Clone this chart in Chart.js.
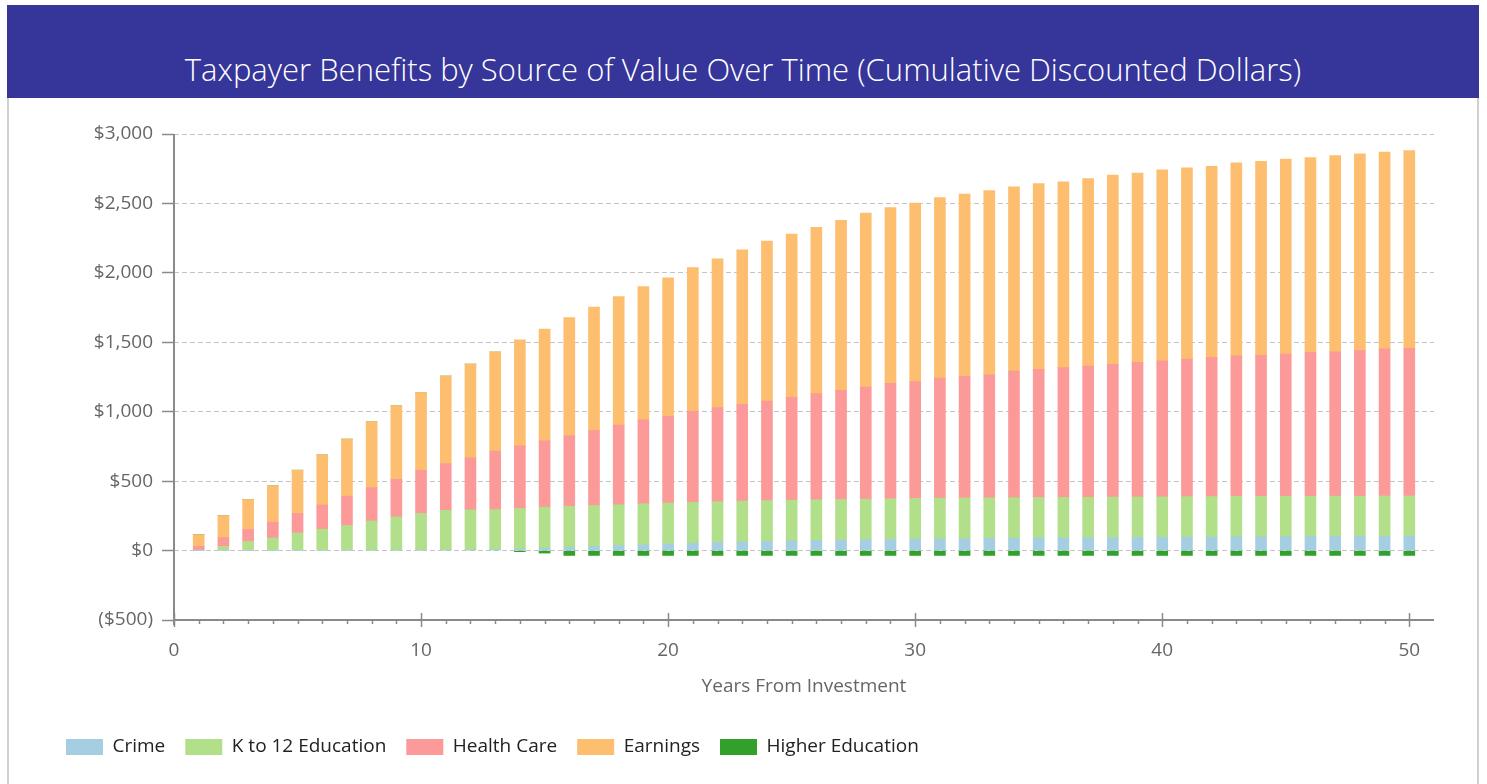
<!DOCTYPE html>
<html>
<head>
<meta charset="utf-8">
<script src="https://cdn.jsdelivr.net/npm/chart.js@4"></script>
<style>
  body { margin: 0; background: #fff; width: 1487px; height: 784px; overflow: hidden; position: relative; }
  #header { position: absolute; left: 7px; top: 5px; width: 1472px; height: 93px; background: #35359a; }
  #header .title { position: absolute; left: 0; right: 0; top: 44px; text-align: center; color: #fff;
    font: 300 31px "Open Sans", sans-serif; line-height: 40px; }
  #panel { position: absolute; left: 7px; top: 98px; width: 1468px; height: 686px;
    border-left: 2px solid #d0d0d0; border-right: 2px solid #d0d0d0; }
  #grafica { position: absolute; left: 0; top: 0; }
</style>
</head>
<body>
<div id="header"><div class="title">Taxpayer Benefits by Source of Value Over Time (Cumulative Discounted Dollars)</div></div>
<div id="panel"><canvas id="grafica" width="1468" height="686"></canvas></div>
<script>
// ==============================
// Datos
// ==============================
const years = [1,2,3,4,5,6,7,8,9,10,11,12,13,14,15,16,17,18,19,20,21,22,23,24,25,
  26,27,28,29,30,31,32,33,34,35,36,37,38,39,40,41,42,43,44,45,46,47,48,49,50];

const crime = [0,0,0,0,0,0,2,3,3,3,4,5,8,12,17,24,30,36,42,48,53,58,62,66,70,
  73,76,78,80,82,84,86,88,89,90,91,92,93,94,95,96,97,98,99,100,100,101,102,103,104];

const k12 = [3,29,65,91,127,154,178,210,239,264,286,288,287,291,295,294,294,294,295,294,295,294,294,294,294,
  293,292,292,293,294,294,293,292,292,292,292,292,292,292,292,292,292,292,291,291,291,291,290,290,289];

const healthCare = [28,65,88,113,140,175,212,241,272,312,337,375,421,451,479,511,541,574,605,624,654,677,697,717,739,
  764,786,808,831,841,864,875,886,912,923,934,945,956,969,980,991,1002,1013,1016,1024,1036,1040,1050,1059,1063];

const earnings = [84,158,215,262,312,360,411,473,528,560,630,675,714,763,804,849,888,925,960,998,1036,1072,1112,1152,1177,
  1198,1225,1252,1266,1285,1300,1314,1326,1326,1338,1338,1350,1364,1363,1375,1377,1377,1389,1398,1404,1404,1413,1415,1417,1425];

const higherEd = [0,0,0,0,0,0,0,0,0,0,0,0,0,-8,-18,-35,-35,-35,-35,-35,-35,-35,-35,-35,-35,
  -35,-35,-35,-35,-35,-35,-35,-35,-35,-35,-35,-35,-35,-35,-35,-35,-35,-35,-35,-35,-35,-35,-35,-35,-35];

const xTicks = [0, 10, 20, 30, 40, 50];
const yTicks = [-500, 0, 500, 1000, 1500, 2000, 2500, 3000];

// ==============================
// Ejes: ticks del eje X y lineas de eje solidas
// ==============================
const axisMarks = {
  id: "axisMarks",
  afterDraw(chart) {
    const { ctx, chartArea, scales: { x } } = chart;
    const y0 = chartArea.bottom;
    ctx.save();
    ctx.strokeStyle = "#8a8a8a";
    ctx.setLineDash([]);
    // lineas de eje
    ctx.lineWidth = 2;
    ctx.beginPath();
    ctx.moveTo(chartArea.left, chartArea.top);
    ctx.lineTo(chartArea.left, y0 + 5);
    ctx.moveTo(chartArea.left, y0);
    ctx.lineTo(chartArea.right, y0);
    ctx.stroke();
    // ticks del eje X
    ctx.lineWidth = 1.5;
    [0].concat(years).forEach(v => {
      const px = Math.round(x.getPixelForValue(v)) + 0.5;
      const major = xTicks.includes(v);
      ctx.beginPath();
      ctx.moveTo(px, major ? y0 - 7 : y0);
      ctx.lineTo(px, major ? y0 + 7 : y0 + 4);
      ctx.stroke();
    });
    ctx.restore();
  }
};

// ==============================
// Grafica
// ==============================
const font = { family: "'Open Sans', sans-serif", size: 19 };
const ctx = document.getElementById("grafica").getContext("2d");
const grafica = new Chart(ctx, {
  type: "bar",
  data: {
    labels: years,
    datasets: [
      { label: "Crime", data: crime, backgroundColor: "#a6cee3" },
      { label: "K to 12 Education", data: k12, backgroundColor: "#b2df8a" },
      { label: "Health Care", data: healthCare, backgroundColor: "#fb9a99" },
      { label: "Earnings", data: earnings, backgroundColor: "#fdbf6f" },
      { label: "Higher Education", data: higherEd, backgroundColor: "#33a02c" }
    ]
  },
  options: {
    responsive: false,
    animation: false,
    devicePixelRatio: 1,
    datasets: { bar: { barThickness: 11 } },
    layout: { padding: { top: 36, right: 43, left: 37, bottom: 17.5 } },
    plugins: {
      tooltip: { enabled: false },
      legend: {
        position: "bottom",
        align: "start",
        labels: { boxWidth: 37, boxHeight: 16, padding: 20, color: "#222", font: font }
      }
    },
    scales: {
      x: {
        type: "linear",
        stacked: true,
        offset: false,
        min: 0,
        max: 51,
        afterBuildTicks: s => { s.ticks = xTicks.map(v => ({ value: v })); },
        afterFit: s => { s.height = 97.5; },
        grid: { display: false, drawTicks: false },
        border: { display: false },
        ticks: { color: "#666", font: font, padding: 19, maxRotation: 0 },
        title: { display: true, text: "Years From Investment", color: "#666", font: font,
          padding: { top: 4, bottom: 19.5 } }
      },
      y: {
        stacked: true,
        min: -500,
        max: 3000,
        afterBuildTicks: s => { s.ticks = yTicks.map(v => ({ value: v })); },
        afterFit: s => { s.width = 128; },
        grid: { color: "#c4c4c4", tickLength: 12, tickColor: "#8a8a8a", tickBorderDash: [], tickWidth: 1.5 },
        border: { display: false, dash: [5, 3] },
        ticks: {
          color: "#666",
          font: font,
          padding: 9,
          callback: v => v < 0 ? "($" + Math.abs(v).toLocaleString("en-US") + ")" : "$" + v.toLocaleString("en-US")
        }
      }
    }
  },
  plugins: [axisMarks]
});
</script>
</body>
</html>
